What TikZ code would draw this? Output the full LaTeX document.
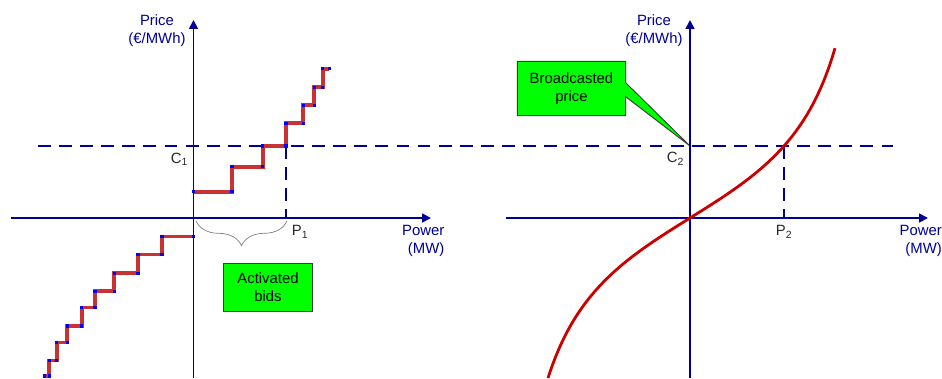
\documentclass[tikz,border=0pt]{standalone}
\usepackage{fontspec}
\setmainfont{Liberation Sans}
\usetikzlibrary{arrows.meta, decorations.pathreplacing, backgrounds}

\definecolor{axisblue}{RGB}{0,0,150}
\definecolor{bidred}{RGB}{200,50,50}
\definecolor{curvered}{RGB}{204,0,0}
\definecolor{boxgreen}{RGB}{0,255,0}
\definecolor{boxborder}{RGB}{60,60,60}
\definecolor{labelgray}{RGB}{40,40,40}

\tikzset{
    axisline/.style={draw=axisblue, line width=1.5pt},
    pricelevel/.style={draw=axisblue, line width=1.5pt, dash pattern=on 11pt off 7pt},
    bidsteps/.style={draw=bidred, line width=3.2pt, line join=miter},
    bidmark/.style={fill=blue, draw=none}
}

\begin{document}
\begin{tikzpicture}[x=0.03cm, y=-0.03cm, font=\fontsize{12.7}{15.3}\selectfont]
\useasboundingbox (0,0) rectangle (942,378);

% axes end points
\coordinate (y1s) at (193.5, 378);
\coordinate (y1e) at (193.5, 20);
\coordinate (x1s) at (11, 218);
\coordinate (x1e) at (431, 218);
\coordinate (y2s) at (690, 378);
\coordinate (y2e) at (690, 20);
\coordinate (x2s) at (506, 218);
\coordinate (x2e) at (928, 218);

% price level and cleared points
\coordinate (dashl) at (38, 146);
\coordinate (dashr) at (893, 146);
\coordinate (c1pt) at (286, 146);
\coordinate (p1pt) at (286, 218);
\coordinate (c2pt) at (690, 146);
\coordinate (cut2) at (784, 146);
\coordinate (p2pt) at (784, 218);
\coordinate (bracel) at (196, 221);
\coordinate (bracer) at (287, 221);

\begin{scope}[every node/.style={inner sep=0pt, align=center}]
    \node (price1) at (157, 31) [text=axisblue] {Price\\(€/MWh)};
    \node (price2) at (654, 31) [text=axisblue] {Price\\(€/MWh)};
    \node (power1) at (444.5, 241) [anchor=east, text=axisblue, align=right] {Power\\(MW)};
    \node (power2) at (942, 241) [anchor=east, text=axisblue, align=right] {Power\\(MW)};

    \node (c1) at (179.5, 159) [text=labelgray] {C\textsubscript{1}};
    \node (p1) at (300, 232) [text=labelgray] {P\textsubscript{1}};
    \node (c2) at (675.5, 159) [text=labelgray] {C\textsubscript{2}};
    \node (p2) at (784, 232) [text=labelgray] {P\textsubscript{2}};

    \node (activ) at (268, 287.5) [draw=boxborder, line width=0.8pt, fill=boxgreen,
        minimum width=76.5pt, minimum height=41.5pt] {Activated\\bids};
    \node (bcast) at (571.5, 88.5) [minimum width=92pt, minimum height=46pt] {Broadcasted\\price};
\end{scope}

\begin{scope}[on background layer]
    \draw [draw=boxborder, line width=0.8pt, fill=boxgreen, line join=miter]
        (bcast.north west) -- (bcast.north east) -- ([yshift=5pt]bcast.east)
        -- (c2pt) -- ([yshift=-7pt]bcast.east) -- (bcast.south east)
        -- (bcast.south west) -- cycle;
\end{scope}

% price level
\draw [pricelevel] (dashl) -- (dashr);
\draw [pricelevel] (c1pt) -- (p1pt);
\draw [pricelevel] (cut2) -- (p2pt);

\begin{scope}[>={Triangle[length=7.5pt, width=7.5pt]}]
    \draw [->, axisline] (y1s) -- (y1e);
    \draw [->, axisline] (x1s) -- (x1e);
    \draw [->, axisline] (y2s) -- (y2e);
    \draw [->, axisline] (x2s) -- (x2e);
\end{scope}

\draw [draw=gray, line width=0.6pt, decorate,
       decoration={brace, mirror, amplitude=21pt, aspect=0.5}] (bracel) -- (bracer);

% stepwise bids
\draw [bidsteps] (193.5,191.7) -- (232,191.7) -- (232,166.7) -- (262.7,166.7)
    -- (262.7,146) -- (286,146) -- (286,123.3) -- (303.3,123.3) -- (303.3,105.3)
    -- (314.3,105.3) -- (314.3,87.3) -- (322.7,87.3) -- (322.7,68.7) -- (329.3,68.7);
\draw [bidsteps] (193.5,236.5) -- (162,236.5) -- (162,254.5) -- (138,254.5)
    -- (138,273.3) -- (114.3,273.3) -- (114.3,291.3) -- (95,291.3) -- (95,307.5)
    -- (81.7,307.5) -- (81.7,326) -- (67.3,326) -- (67.3,342.5) -- (56.7,342.5)
    -- (56.7,360.5) -- (49.3,360.5) -- (49.3,376) -- (44.3,376);
\foreach \px/\py in {193.5/191.7, 232/191.7, 232/166.7, 262.7/166.7, 262.7/146,
        286/146, 286/123.3, 303.3/123.3, 303.3/105.3, 314.3/105.3, 314.3/87.3,
        322.7/87.3, 322.7/68.7, 329.3/68.7,
        193.5/236.5, 162/236.5, 162/254.5, 138/254.5, 138/273.3, 114.3/273.3,
        114.3/291.3, 95/291.3, 95/307.5, 81.7/307.5, 81.7/326, 67.3/326,
        67.3/342.5, 56.7/342.5, 56.7/360.5, 49.3/360.5, 49.3/376, 44.3/376}
    \fill [bidmark] ([xshift=-1.4pt, yshift=-1.4pt]\px,\py) rectangle ([xshift=1.4pt, yshift=1.4pt]\px,\py);

% continuous bid curve
\draw [draw=curvered, line width=2.4pt] plot [domain=-142:145, samples=120, smooth]
    ({690+\x}, {218-80*tan(0.0078*\x r)});

\end{tikzpicture}
\end{document}
